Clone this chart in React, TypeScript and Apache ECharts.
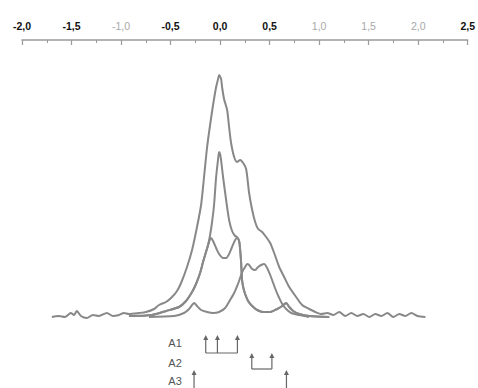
import React, { useEffect, useRef } from "react";
import * as echarts from "echarts";

// x axis (chemical shift) tick settings
const xMin = -2.0;
const xMax = 2.5;
const xInterval = 0.5;
const grayTicks = [-1.0, 1.0, 1.5, 2.0];

// outer envelope (total spectrum), [shift, intensity]
const totalCurve: [number, number][] = [
  [-1.699, 0], [-1.628, 1], [-1.567, 0], [-1.507, 4], [-1.476, 2], [-1.446, 6], [-1.405, 1],
  [-1.345, -1], [-1.284, 2], [-1.223, 1], [-1.143, 4], [-1.082, 1], [-1.021, 2], [-0.971, 4],
  [-0.92, 3], [-0.819, 4], [-0.748, 5], [-0.667, 8], [-0.617, 12], [-0.546, 15], [-0.485, 20],
  [-0.435, 26], [-0.394, 34], [-0.334, 50], [-0.283, 67], [-0.233, 90], [-0.192, 112],
  [-0.162, 140], [-0.131, 170], [-0.101, 192], [-0.071, 212], [-0.04, 230], [-0.02, 238],
  [-0.01, 242], [0.01, 238], [0.02, 230], [0.04, 218], [0.071, 207], [0.091, 190], [0.111, 174],
  [0.142, 160], [0.172, 155], [0.202, 157], [0.233, 154], [0.263, 148], [0.293, 124],
  [0.324, 107], [0.354, 95], [0.384, 88], [0.425, 85], [0.465, 80], [0.506, 74], [0.546, 64],
  [0.597, 50], [0.647, 40], [0.698, 30], [0.768, 20], [0.829, 12], [0.9, 8], [0.961, 5],
  [1.021, 3], [1.082, 4], [1.143, 2], [1.203, 5], [1.264, 1], [1.325, 4], [1.385, 1],
  [1.446, 3], [1.507, 0], [1.567, 3], [1.628, 1], [1.689, 4], [1.749, 0], [1.81, 3],
  [1.87, 1], [1.931, 4], [1.992, 1], [2.073, 0],
];

// A1 component with its two maxima
const a1Curve: [number, number][] = [
  [-0.92, 1], [-0.688, 2], [-0.546, 6], [-0.415, 10], [-0.344, 16], [-0.283, 25], [-0.243, 33],
  [-0.202, 44], [-0.172, 55], [-0.142, 65], [-0.121, 72], [-0.101, 78], [-0.091, 79],
  [-0.071, 76], [-0.04, 69], [-0.01, 63], [0.03, 59], [0.061, 59], [0.091, 63], [0.121, 70],
  [0.152, 77], [0.172, 79], [0.192, 76], [0.202, 68], [0.212, 55], [0.217, 45], [0.222, 37],
  [0.233, 30], [0.253, 23], [0.283, 16], [0.324, 11], [0.374, 7], [0.435, 5], [0.506, 5],
  [0.576, 8], [0.627, 11], [0.667, 14], [0.698, 10], [0.738, 6], [0.799, 3], [0.9, 1],
  [1.102, 0],
];

// narrow central peak sitting on A1
const centralPeak: [number, number][] = [
  [-0.101, 82], [-0.081, 95], [-0.061, 112], [-0.04, 140], [-0.02, 158], [-0.01, 165],
  [0.0, 163], [0.01, 157], [0.03, 140], [0.061, 117], [0.091, 97], [0.121, 86], [0.152, 81],
  [0.172, 80],
];

// A2 component
const a2Curve: [number, number][] = [
  [-0.718, 0], [-0.465, 1], [-0.364, 4], [-0.313, 8], [-0.283, 12], [-0.263, 14], [-0.233, 11],
  [-0.192, 7], [-0.131, 5], [-0.071, 4], [-0.01, 5], [0.051, 9], [0.101, 17], [0.142, 24],
  [0.172, 31], [0.192, 36], [0.212, 42], [0.233, 47], [0.253, 50], [0.273, 53], [0.293, 52],
  [0.324, 48], [0.354, 47], [0.384, 50], [0.415, 52], [0.445, 53], [0.475, 49], [0.506, 42],
  [0.536, 34], [0.566, 26], [0.597, 19], [0.627, 13], [0.667, 8], [0.718, 4], [0.799, 2],
  [0.9, 0],
];

// line positions of the multiplet annotations
const a1Lines = [-0.145, -0.027, 0.175];
const a2Lines = [0.32, 0.523];
const a3Lines = [-0.263, 0.67];
const annotationNames = ["A1", "A2", "A3"];

const middleCurve: [number, number][] = [
  ...a1Curve.filter(([x]) => x < -0.11),
  ...centralPeak,
  ...a1Curve.filter(([x]) => x > 0.18),
];

const LINE = "#888888";

export default function App() {
  const ref = useRef<HTMLDivElement>(null);
  useEffect(() => {
    if (!ref.current) return;
    const chart = echarts.init(ref.current, null, { renderer: "svg" });
    const groups = [
      { name: annotationNames[0], xs: a1Lines, tip: -18, bar: -36, labelY: -26 },
      { name: annotationNames[1], xs: a2Lines, tip: -36, bar: -52, labelY: -46 },
      { name: annotationNames[2], xs: a3Lines, tip: -53, bar: -76, labelY: -64 },
    ];
    const lineSeries = (data: [number, number][]) => ({
      type: "line",
      data,
      showSymbol: false,
      smooth: 0.25,
      lineStyle: { color: LINE, width: 2 },
      silent: true,
    });
    chart.setOption({
      animation: false,
      grid: { left: 22, right: 10, top: 40, bottom: 0 },
      xAxis: {
        type: "value",
        position: "top",
        min: xMin,
        max: xMax,
        interval: xInterval,
        splitLine: { show: false },
        axisLine: { onZero: false, lineStyle: { color: "#9a9a9a", width: 1.5 } },
        axisTick: { inside: true, length: 5, lineStyle: { color: "#9a9a9a", width: 1.2 } },
        minorTick: { show: true, splitNumber: 2, length: 3, lineStyle: { color: "#9a9a9a", width: 1 } },
        axisLabel: {
          margin: 9,
          formatter: (v: number) => {
            const s = v.toFixed(1).replace(".", ",");
            return grayTicks.some((g) => Math.abs(g - v) < 1e-6) ? `{g|${s}}` : `{b|${s}}`;
          },
          rich: {
            b: { fontFamily: "Liberation Sans, Arial", fontWeight: "bold", fontSize: 10.5, color: "#111" },
            g: { fontFamily: "Liberation Sans, Arial", fontSize: 10.5, color: "#a8a8a8" },
          },
        },
      },
      yAxis: { type: "value", show: false, min: -71, max: 277 },
      series: [
        lineSeries(totalCurve),
        lineSeries(middleCurve),
        lineSeries(a1Curve),
        lineSeries(a2Curve),
        {
          type: "custom",
          clip: false,
          silent: true,
          data: groups.map((_, i) => i),
          renderItem: (_params: any, api: any) => {
            const g = groups[api.value(0)];
            const children: any[] = [];
            const stroke = { stroke: "#666", lineWidth: 1.2, fill: "none" };
            const b0 = api.coord([g.xs[0], g.bar]);
            const b1 = api.coord([g.xs[g.xs.length - 1], g.bar]);
            children.push({ type: "line", shape: { x1: b0[0], y1: b0[1], x2: b1[0], y2: b1[1] }, style: stroke });
            g.xs.forEach((x) => {
              const t = api.coord([x, g.tip]);
              const b = api.coord([x, g.bar]);
              children.push({ type: "line", shape: { x1: t[0], y1: t[1] + 3, x2: b[0], y2: b[1] }, style: stroke });
              children.push({
                type: "polygon",
                shape: { points: [[t[0], t[1]], [t[0] - 2.5, t[1] + 5], [t[0] + 2.5, t[1] + 5]] },
                style: { fill: "#666" },
              });
            });
            const lp = api.coord([-0.455, g.labelY]);
            children.push({
              type: "text",
              x: lp[0],
              y: lp[1],
              style: {
                text: g.name,
                fill: "#555",
                font: "11px 'Liberation Sans', Arial",
                align: "center",
                verticalAlign: "middle",
              },
            });
            return { type: "group", children };
          },
        },
      ],
    });
    return () => chart.dispose();
  }, []);
  return (
    <div
      ref={ref}
      style={{ position: "fixed", left: 0, top: 0, width: 478, height: 388, background: "#fff" }}
    />
  );
}
